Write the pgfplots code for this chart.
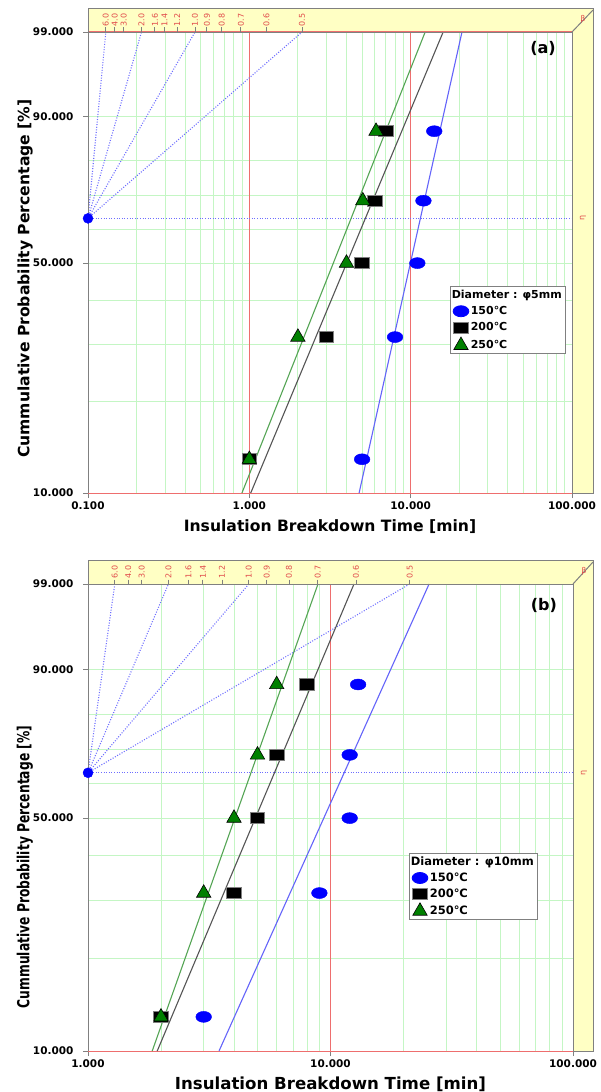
\documentclass[border=0pt]{standalone}
\usepackage{pgfplots}
\pgfplotsset{compat=1.18}
\usepackage{fontspec}
\setmainfont{DejaVu Sans}
\usepackage{graphicx}

\definecolor{band}{RGB}{255,255,196}
\definecolor{gridg}{RGB}{196,246,196}
\definecolor{gridr}{RGB}{238,110,110}
\definecolor{fitg}{RGB}{85,165,85}
\definecolor{fitk}{RGB}{85,85,85}
\definecolor{fitb}{RGB}{100,100,250}
\definecolor{dotb}{RGB}{110,110,255}
\definecolor{betar}{RGB}{225,75,75}
\definecolor{mgreen}{RGB}{0,128,0}
\definecolor{mblue}{RGB}{0,0,255}
\definecolor{framec}{RGB}{128,128,128}

\begin{document}
\begin{tikzpicture}
\useasboundingbox (0pt,0pt) rectangle (600pt,-1092pt);
\fill[white] (0pt,0pt) rectangle (600pt,-1092pt);

% ---------------- panel (a) ----------------
\fill[band] (88pt,-8pt) -- (593pt,-8pt) -- (593pt,-493pt) -- (572pt,-493pt) -- (572pt,-32pt) -- (88pt,-32pt) -- cycle;
\begin{axis}[at={(88pt,-493pt)}, anchor=south west, scale only axis, width=484pt, height=461pt,
  clip=false, xmode=log,
  xmin=0.1, xmax=100, ymin=-2.250367, ymax=1.527180,
  y filter/.expression={ln(-ln(1-y/100))},
  separate axis lines,
  x axis line style={gridr, line width=1pt},
  y axis line style={draw=none},
  tick pos=left, tick align=outside,
  major tick length=5pt, minor tick length=0pt,
  tick style={framec, line width=0.8pt},
  xtick={0.1,1,10,100}, xticklabels={0.100,1.000,10.000,100.000},
  minor xtick={0.2,0.3,0.4,0.5,0.6,0.7,0.8,0.9,2,3,4,5,6,7,8,9,20,30,40,50,60,70,80,90},
  ytick={-2.250367,-0.366513,0.834032,1.527180},
  yticklabels={10.000,50.000,90.000,99.000},
  minor ytick={-1.499940,-1.030930,-0.671727,-0.087422,0.185627,0.475885},
  ymajorgrids=true, yminorgrids=true, xminorgrids=true, xmajorgrids=false,
  major grid style={gridg, line width=0.8pt},
  minor grid style={gridg, line width=0.8pt},
  tick label style={font=\fontsize{10.5}{12}\selectfont\bfseries},
  yticklabel style={xshift=-6pt},
  xlabel={Insulation Breakdown Time [min]},
  ylabel={Cummulative Probability Percentage [\%]},
  xlabel style={at={(axis description cs:0.5,0)}, anchor=north, yshift=-26pt, inner sep=0pt, font=\fontsize{15.6}{18}\selectfont\bfseries},
  ylabel style={at={(axis description cs:-0.130,0.465)}, anchor=center, font=\fontsize{15.6}{18}\selectfont\bfseries},
  legend cell align=left,
  legend style={at={(axis description cs:0.748,0.449)}, anchor=north west, draw=framec, line width=0.8pt, fill=white,
    inner xsep=2pt, inner ysep=1.5pt, row sep=2.6pt, font=\fontsize{11}{12}\selectfont\bfseries},
]
\addplot[gridr, line width=1pt, forget plot] coordinates {(1,10) (1,99)};
\addplot[gridr, line width=1pt, forget plot] coordinates {(10,10) (10,99)};
\addplot[dotb, line width=1.1pt, dash pattern=on 1pt off 1.6pt, forget plot] coordinates {(0.1,63.2121) (0.12899,99)};
\addplot[dotb, line width=1.1pt, dash pattern=on 1pt off 1.6pt, forget plot] coordinates {(0.1,63.2121) (0.21460,99)};
\addplot[dotb, line width=1.1pt, dash pattern=on 1pt off 1.6pt, forget plot] coordinates {(0.1,63.2121) (0.46052,99)};
\addplot[dotb, line width=1.1pt, dash pattern=on 1pt off 1.6pt, forget plot] coordinates {(0.1,63.2121) (2.1208,99)};
\addplot[dotb, line width=1.1pt, dash pattern=on 1pt off 1.6pt, forget plot] coordinates {(0.1,63.2121) (100,63.2121)};
\addplot[fitg, line width=1.1pt, forget plot] coordinates {(0.90,10) (12.3,99)};
\addplot[fitk, line width=1.1pt, forget plot] coordinates {(1.02,10) (15.9,99)};
\addplot[fitb, line width=1.1pt, forget plot] coordinates {(4.79,10) (20.8,99)};
\addlegendimage{empty legend}\addlegendentry{\hspace*{-19pt}Diameter : φ5mm}
\addplot[only marks, mark=*, mark size=5.5pt, mark options={xscale=1.43, fill=mblue, draw=mblue}]
  coordinates {(5,12.963) (8,31.481) (11,50) (12,68.519) (14,87.037)};
\addlegendentry{150℃}
\addplot[only marks, mark=square*, mark size=5.6pt, mark options={xscale=1.3, fill=black, draw=framec, line width=0.8pt}]
  coordinates {(1,12.963) (3,31.481) (5,50) (6,68.519) (7,87.037)};
\addlegendentry{200℃}
\addplot[only marks, mark=triangle*, mark size=8.3pt, mark options={fill=mgreen, draw=black, line width=0.6pt}]
  coordinates {(1,12.963) (2,31.481) (4,50) (5.05,68.519) (6.1,87.037)};
\addlegendentry{250℃}
\node[font=\fontsize{16}{18}\selectfont\bfseries] at (rel axis cs:0.94,0.965) {(a)};
\end{axis}
\begin{axis}[at={(88pt,-493pt)}, anchor=south west, scale only axis, width=484pt, height=461pt,
  xmode=log, xmin=0.1, xmax=100, ymin=0, ymax=1,
  axis line style={draw=none}, ytick=\empty, xtick pos=right, xticklabel pos=right,
  tick align=outside, major tick length=4.5pt, minor tick length=0pt,
  tick style={framec, line width=0.8pt},
  xticklabel style={rotate=90, anchor=west, text=betar, font=\fontsize{8}{9}\selectfont, inner sep=1pt},
  xtick={0.12899,0.14649,0.16638,0.21460,0.25974,0.29768,0.35703,0.46052,0.54568,0.67459,0.88612,1.2748,2.1208},
  xticklabels={6.0,4.0,3.0,2.0,1.6,1.4,1.2,1.0,0.9,0.8,0.7,0.6,0.5}]
\addplot[draw=none, mark=none, forget plot] coordinates {(50,0.5)};
\end{axis}
\draw[framec, line width=1pt] (88pt,-493pt) -- (88pt,-8pt) -- (593pt,-8pt) -- (593pt,-493pt) -- (572pt,-493pt);
\draw[framec, line width=1pt] (88pt,-32pt) -- (572pt,-32pt) -- (572pt,-493pt);
\draw[framec, line width=1pt] (572pt,-32pt) -- (593pt,-10pt);
\node[betar, font=\fontsize{8}{9}\selectfont] at (583pt,-19pt) {β};
\node[betar, font=\fontsize{8}{9}\selectfont, rotate=90] at (583pt,-218.4pt) {η};
\begin{axis}[at={(88pt,-493pt)}, anchor=south west, scale only axis, width=484pt, height=461pt,
  clip=false, xmode=log, xmin=0.1, xmax=100, ymin=-2.250367, ymax=1.527180,
  y filter/.expression={ln(-ln(1-y/100))}, hide axis]
\addplot[only marks, mark=*, mark size=5pt, mark options={fill=mblue, draw=mblue}] coordinates {(0.1,63.2121)};
\end{axis}

% ---------------- panel (b) ----------------
\fill[band] (88pt,-560pt) -- (593pt,-560pt) -- (593pt,-1051pt) -- (573pt,-1051pt) -- (573pt,-584pt) -- (88pt,-584pt) -- cycle;
\begin{axis}[at={(88pt,-1051pt)}, anchor=south west, scale only axis, width=485pt, height=467pt,
  clip=false, xmode=log,
  xmin=1, xmax=100, ymin=-2.250367, ymax=1.527180,
  y filter/.expression={ln(-ln(1-y/100))},
  separate axis lines,
  x axis line style={gridr, line width=1pt},
  y axis line style={draw=none},
  tick pos=left, tick align=outside,
  major tick length=5pt, minor tick length=0pt,
  tick style={framec, line width=0.8pt},
  xtick={1,10,100}, xticklabels={1.000,10.000,100.000},
  minor xtick={2,3,4,5,6,7,8,9,20,30,40,50,60,70,80,90},
  ytick={-2.250367,-0.366513,0.834032,1.527180},
  yticklabels={10.000,50.000,90.000,99.000},
  minor ytick={-1.499940,-1.030930,-0.671727,-0.087422,0.185627,0.475885},
  ymajorgrids=true, yminorgrids=true, xminorgrids=true, xmajorgrids=false,
  major grid style={gridg, line width=0.8pt},
  minor grid style={gridg, line width=0.8pt},
  tick label style={font=\fontsize{10.5}{12}\selectfont\bfseries},
  yticklabel style={xshift=-6pt},
  xlabel={Insulation Breakdown Time [min]},
  ylabel={\scalebox{0.74}[1]{Cummulative Probability Percentage [\%]}},
  xlabel style={at={(axis description cs:0.5,0)}, anchor=north, yshift=-26pt, inner sep=0pt, font=\fontsize{16.6}{18}\selectfont\bfseries},
  ylabel style={at={(axis description cs:-0.130,0.394)}, anchor=center, font=\fontsize{16.6}{18}\selectfont\bfseries},
  legend cell align=left,
  legend style={at={(axis description cs:0.662,0.424)}, anchor=north west, draw=framec, line width=0.8pt, fill=white,
    inner xsep=2pt, inner ysep=1.5pt, row sep=1.8pt, font=\fontsize{11.5}{12.5}\selectfont\bfseries},
]
\addplot[gridr, line width=1pt, forget plot] coordinates {(10,10) (10,99)};
\addplot[dotb, line width=1.1pt, dash pattern=on 1pt off 1.6pt, forget plot] coordinates {(1,63.2121) (1.2899,99)};
\addplot[dotb, line width=1.1pt, dash pattern=on 1pt off 1.6pt, forget plot] coordinates {(1,63.2121) (2.1460,99)};
\addplot[dotb, line width=1.1pt, dash pattern=on 1pt off 1.6pt, forget plot] coordinates {(1,63.2121) (4.6052,99)};
\addplot[dotb, line width=1.1pt, dash pattern=on 1pt off 1.6pt, forget plot] coordinates {(1,63.2121) (21.208,99)};
\addplot[dotb, line width=1.1pt, dash pattern=on 1pt off 1.6pt, forget plot] coordinates {(1,63.2121) (100,63.2121)};
\addplot[fitg, line width=1.1pt, forget plot] coordinates {(1.84,10) (8.88,99)};
\addplot[fitk, line width=1.1pt, forget plot] coordinates {(1.93,10) (12.5,99)};
\addplot[fitb, line width=1.1pt, forget plot] coordinates {(3.47,10) (25.5,99)};
\addlegendimage{empty legend}\addlegendentry{\hspace*{-19pt}Diameter : φ10mm}
\addplot[only marks, mark=*, mark size=5.5pt, mark options={xscale=1.43, fill=mblue, draw=mblue}]
  coordinates {(3,12.963) (9,31.481) (12,50) (12,68.519) (13,87.037)};
\addlegendentry{150℃}
\addplot[only marks, mark=square*, mark size=5.6pt, mark options={xscale=1.3, fill=black, draw=framec, line width=0.8pt}]
  coordinates {(2,12.963) (4,31.481) (5,50) (6,68.519) (8,87.037)};
\addlegendentry{200℃}
\addplot[only marks, mark=triangle*, mark size=8.3pt, mark options={fill=mgreen, draw=black, line width=0.6pt}]
  coordinates {(2,12.963) (3,31.481) (4,50) (5,68.519) (6,87.037)};
\addlegendentry{250℃}
\node[font=\fontsize{16}{18}\selectfont\bfseries] at (rel axis cs:0.94,0.955) {(b)};
\end{axis}
\begin{axis}[at={(88pt,-1051pt)}, anchor=south west, scale only axis, width=485pt, height=467pt,
  xmode=log, xmin=1, xmax=100, ymin=0, ymax=1,
  axis line style={draw=none}, ytick=\empty, xtick pos=right, xticklabel pos=right,
  tick align=outside, major tick length=4.5pt, minor tick length=0pt,
  tick style={framec, line width=0.8pt},
  xticklabel style={rotate=90, anchor=west, text=betar, font=\fontsize{8}{9}\selectfont, inner sep=1pt},
  xtick={1.2899,1.4649,1.6638,2.1460,2.5974,2.9768,3.5703,4.6052,5.4568,6.7459,8.8612,12.748,21.208},
  xticklabels={6.0,4.0,3.0,2.0,1.6,1.4,1.2,1.0,0.9,0.8,0.7,0.6,0.5}]
\addplot[draw=none, mark=none, forget plot] coordinates {(50,0.5)};
\end{axis}
\draw[framec, line width=1pt] (88pt,-1051pt) -- (88pt,-560pt) -- (593pt,-560pt) -- (593pt,-1051pt) -- (573pt,-1051pt);
\draw[framec, line width=1pt] (88pt,-584pt) -- (573pt,-584pt) -- (573pt,-1051pt);
\draw[framec, line width=1pt] (573pt,-584pt) -- (593pt,-562pt);
\node[betar, font=\fontsize{8}{9}\selectfont] at (584pt,-571pt) {β};
\node[betar, font=\fontsize{8}{9}\selectfont, rotate=90] at (584pt,-772.8pt) {η};
\begin{axis}[at={(88pt,-1051pt)}, anchor=south west, scale only axis, width=485pt, height=467pt,
  clip=false, xmode=log, xmin=1, xmax=100, ymin=-2.250367, ymax=1.527180,
  y filter/.expression={ln(-ln(1-y/100))}, hide axis]
\addplot[only marks, mark=*, mark size=5pt, mark options={fill=mblue, draw=mblue}] coordinates {(1,63.2121)};
\end{axis}
\end{tikzpicture}
\end{document}
